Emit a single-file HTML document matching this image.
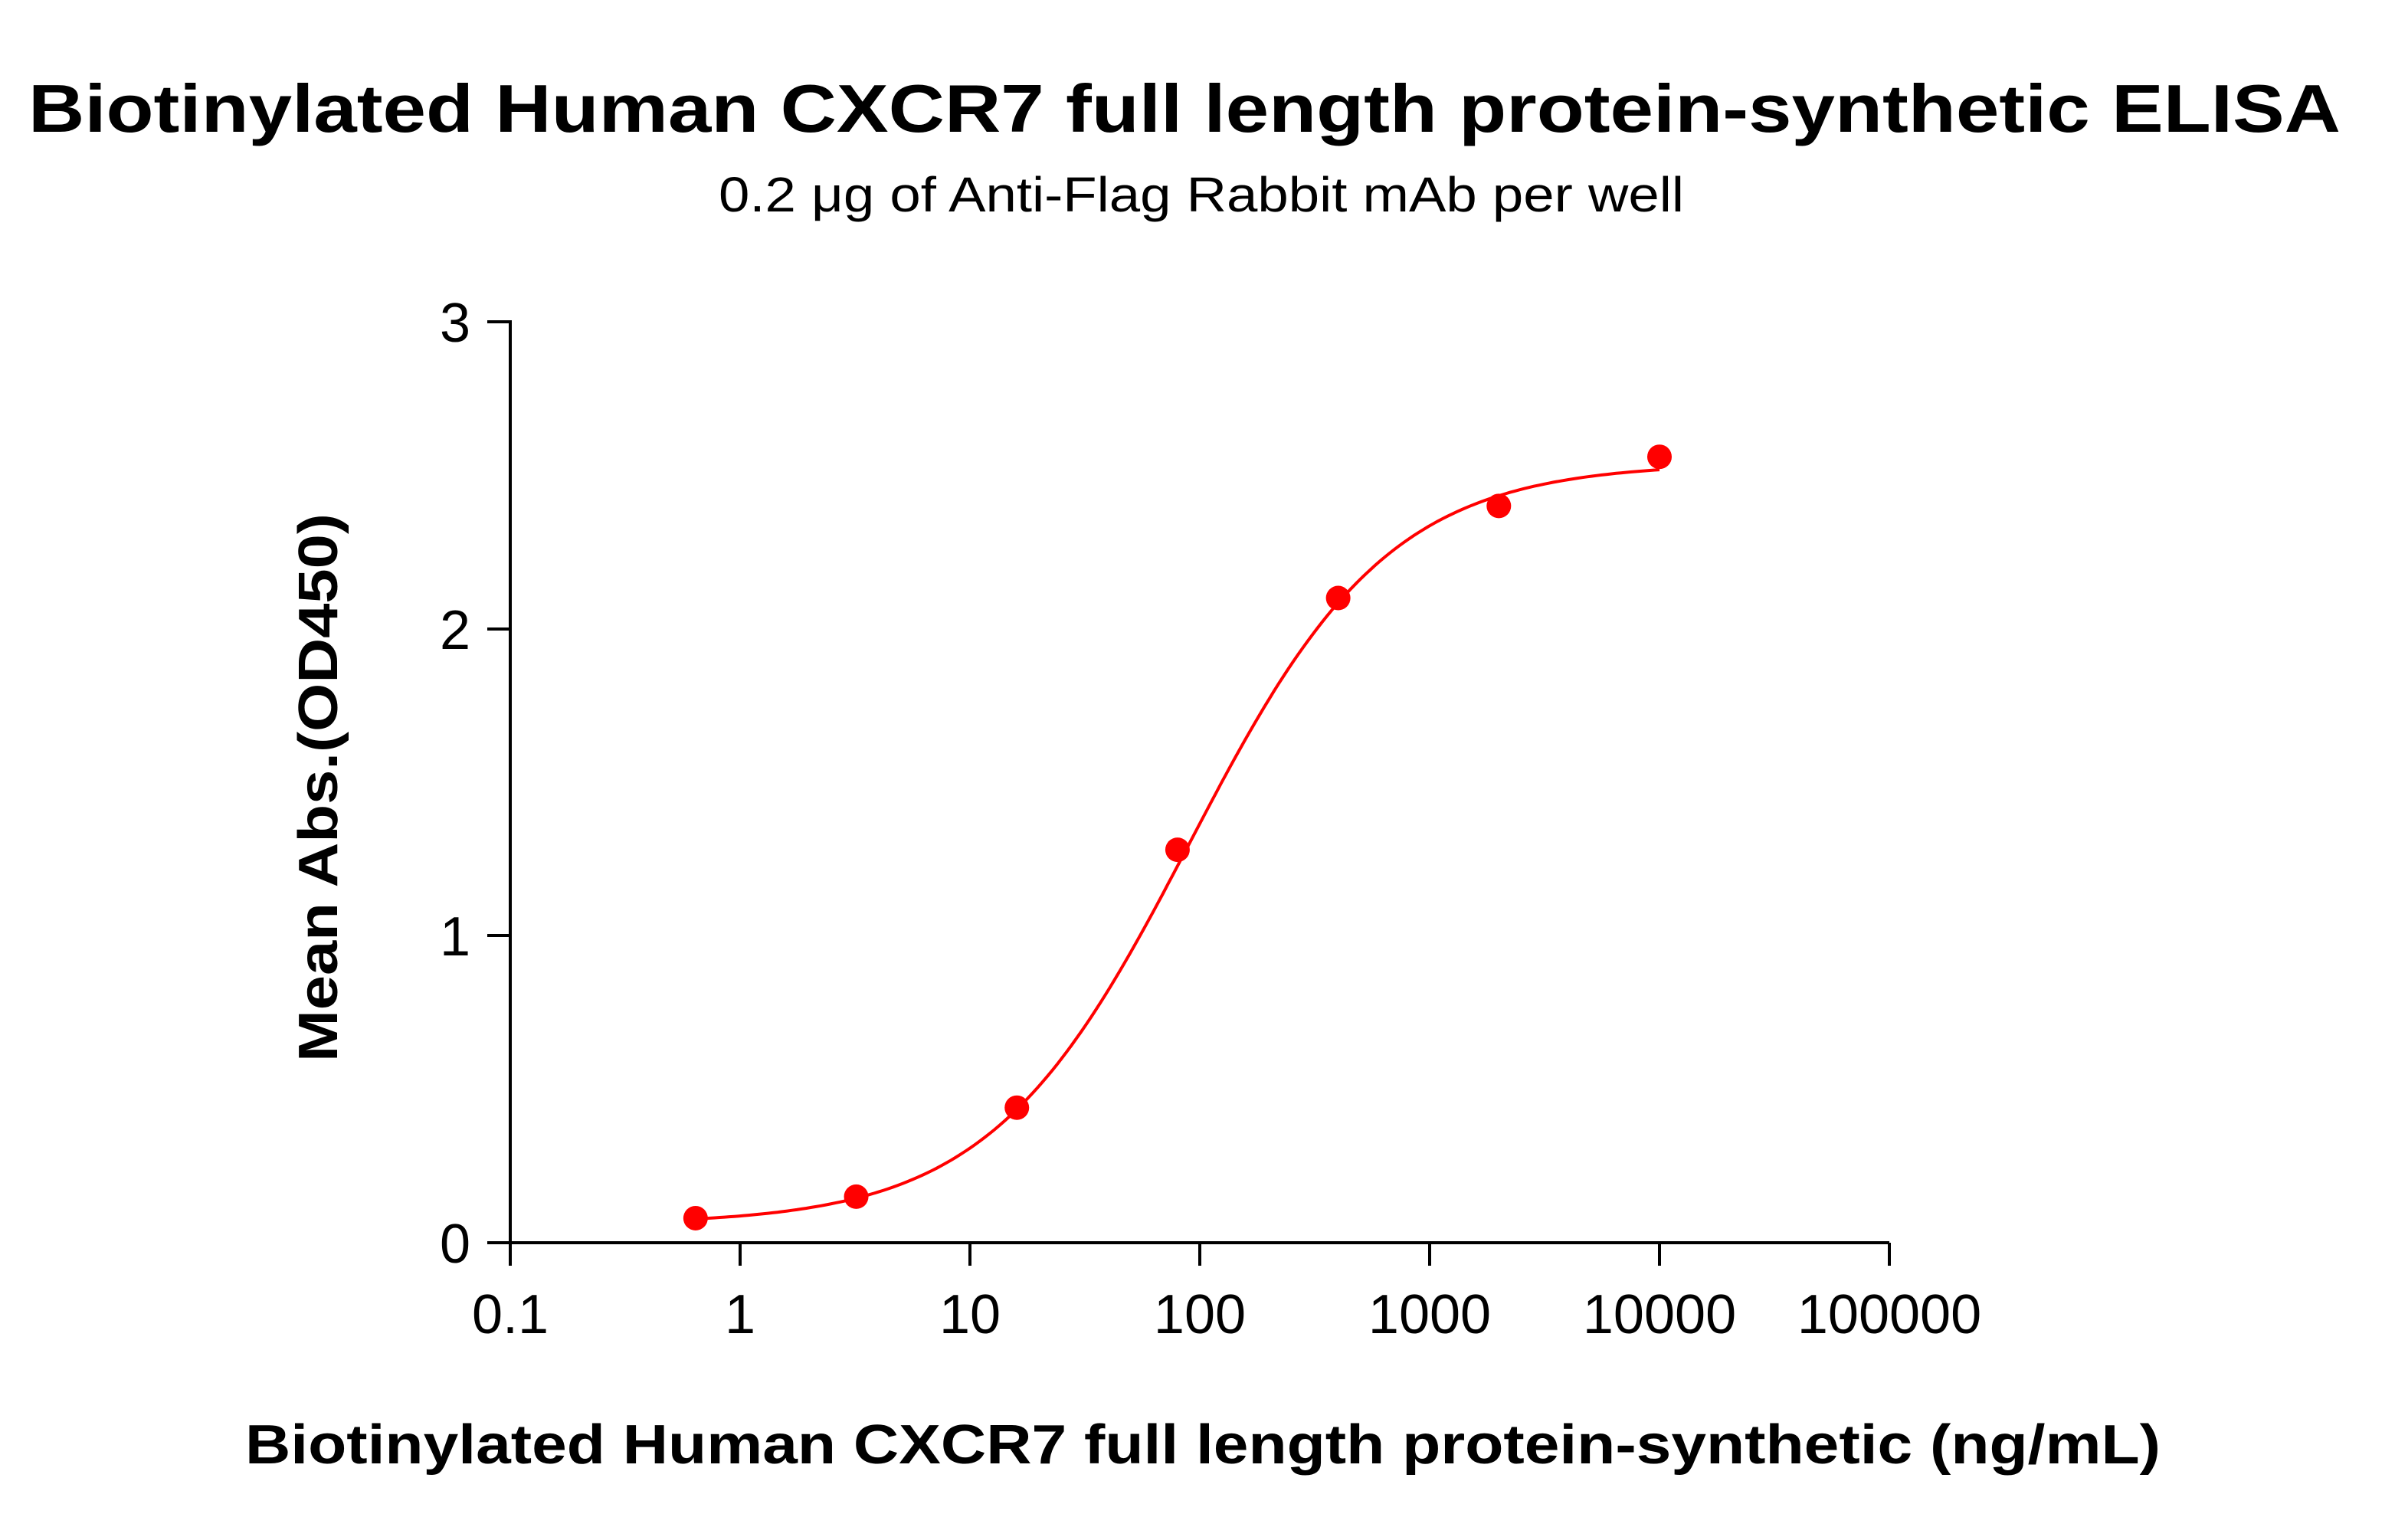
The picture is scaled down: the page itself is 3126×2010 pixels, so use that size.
<!DOCTYPE html>
<html><head><meta charset="utf-8"><style>html,body{margin:0;padding:0;background:#fff}</style></head>
<body>
<svg id="s" width="3126" height="2005" xmlns="http://www.w3.org/2000/svg" font-family="Liberation Sans, Arial, sans-serif">
<text x="1546" y="172" font-size="88" font-weight="bold" text-anchor="middle" textLength="3018" lengthAdjust="spacingAndGlyphs">Biotinylated Human CXCR7 full length protein-synthetic ELISA</text>
<text x="1568" y="276" font-size="64" text-anchor="middle" textLength="1260" lengthAdjust="spacingAndGlyphs">0.2 μg of Anti-Flag Rabbit mAb per well</text>
<g stroke="#000" stroke-width="4" fill="none">
<line x1="666" y1="418" x2="666" y2="1624"/>
<line x1="664" y1="1622" x2="2466" y2="1622"/>
<line x1="636" y1="420" x2="666" y2="420"/>
<line x1="636" y1="821" x2="666" y2="821"/>
<line x1="636" y1="1221" x2="666" y2="1221"/>
<line x1="636" y1="1622" x2="666" y2="1622"/>
<line x1="666" y1="1622" x2="666" y2="1652"/>
<line x1="966" y1="1622" x2="966" y2="1652"/>
<line x1="1266" y1="1622" x2="1266" y2="1652"/>
<line x1="1566" y1="1622" x2="1566" y2="1652"/>
<line x1="1866" y1="1622" x2="1866" y2="1652"/>
<line x1="2166" y1="1622" x2="2166" y2="1652"/>
<line x1="2466" y1="1622" x2="2466" y2="1652"/>
</g>
<g font-size="72" text-anchor="end">
<text x="614" y="446">3</text><text x="614" y="847">2</text><text x="614" y="1247">1</text><text x="614" y="1648">0</text>
</g>
<g font-size="72" text-anchor="middle">
<text x="666" y="1740">0.1</text><text x="966" y="1740">1</text><text x="1266" y="1740">10</text><text x="1566" y="1740">100</text><text x="1866" y="1740">1000</text><text x="2166" y="1740">10000</text><text x="2466" y="1740">100000</text>
</g>
<text x="1570" y="1910" font-size="72" font-weight="bold" text-anchor="middle" textLength="2500" lengthAdjust="spacingAndGlyphs">Biotinylated Human CXCR7 full length protein-synthetic (ng/mL)</text>
<text transform="translate(440,1028) rotate(-90)" font-size="72" font-weight="bold" text-anchor="middle" textLength="716" lengthAdjust="spacingAndGlyphs">Mean Abs.(OD450)</text>
<path id="c" fill="none" stroke="#f00" stroke-width="4"/>
<g id="p" fill="#f00"></g>
</svg>
<script>
function X(v){return 666+300*(Math.log10(v)+1);}
function Y(v){return 1622-400.7*v;}
function f(x){return 0.06+2.48/(1+Math.pow(90/x,1.0));}
var d="";for(var i=0;i<=200;i++){var lx=Math.log10(0.64)+i*(4-Math.log10(0.64))/200;var x=Math.pow(10,lx);d+=(i?"L":"M")+X(x).toFixed(1)+","+Y(f(x)).toFixed(1);}
document.getElementById("c").setAttribute("d",d);
var pts=[[0.64,0.08],[3.2,0.15],[16,0.44],[80,1.28],[400,2.10],[2000,2.40],[10000,2.56]];
var g=document.getElementById("p"),h="";
pts.forEach(function(p){h+='<circle cx="'+X(p[0])+'" cy="'+Y(p[1])+'" r="16"/>';});
g.innerHTML=h;
</script>
</body></html>
